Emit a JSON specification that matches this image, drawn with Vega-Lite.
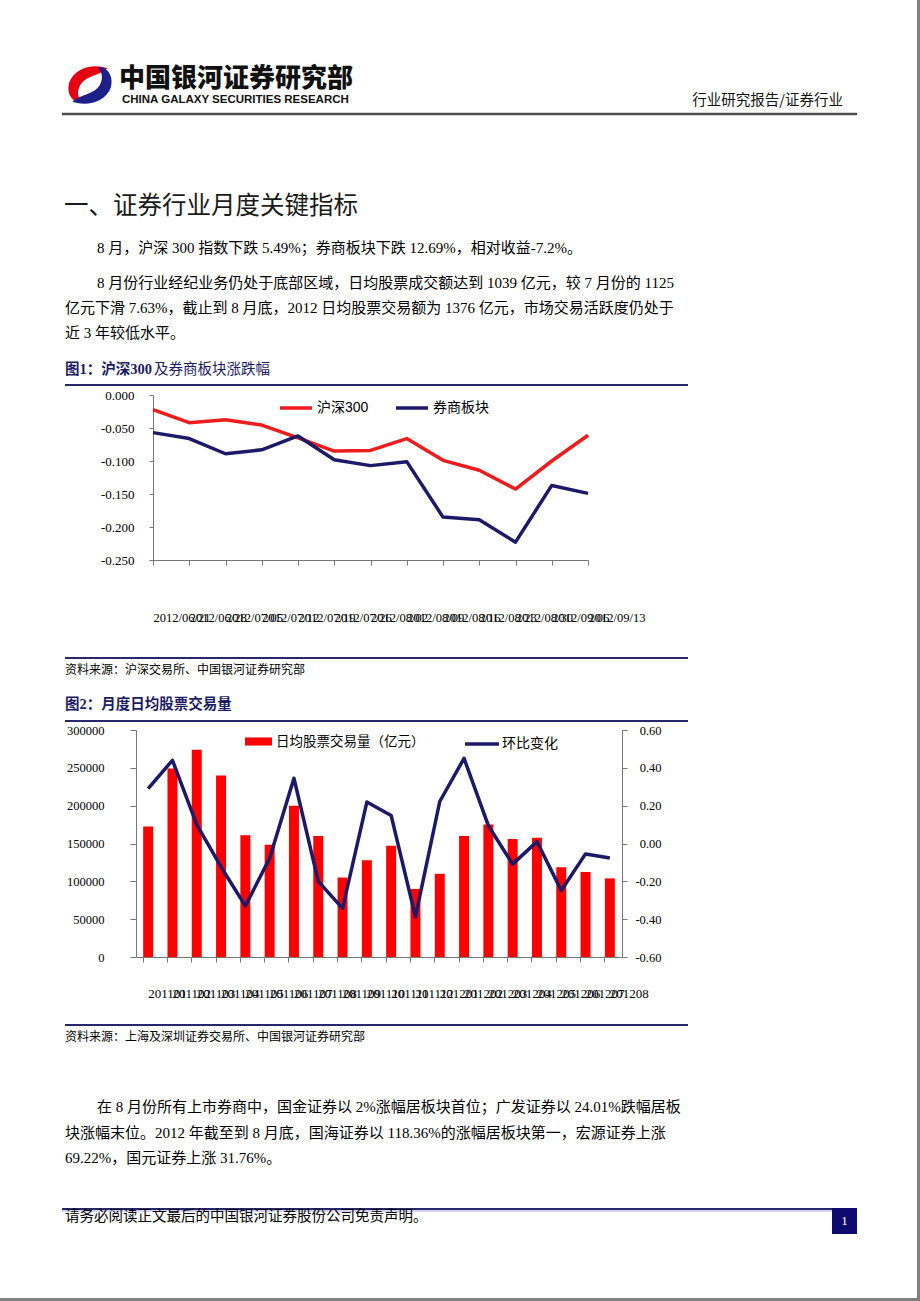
{
  "$schema": "https://vega.github.io/schema/vega-lite/v6.json",
  "width": 920,
  "height": 1301,
  "padding": 0,
  "autosize": {"type": "fit", "contains": "padding"},
  "background": "#ffffff",
  "config": {
    "view": {"stroke": null},
    "locale": {"number": {"decimal": ".", "thousands": "", "grouping": [3], "currency": ["", ""], "minus": "-"}}
  },
  "datasets": {
    "weekly": [
      {"date": "2012/06/21", "series": "沪深300", "value": -0.022},
      {"date": "2012/06/28", "series": "沪深300", "value": -0.042},
      {"date": "2012/07/05", "series": "沪深300", "value": -0.0375},
      {"date": "2012/07/12", "series": "沪深300", "value": -0.0455},
      {"date": "2012/07/19", "series": "沪深300", "value": -0.065},
      {"date": "2012/07/26", "series": "沪深300", "value": -0.085},
      {"date": "2012/08/02", "series": "沪深300", "value": -0.084},
      {"date": "2012/08/09", "series": "沪深300", "value": -0.066},
      {"date": "2012/08/16", "series": "沪深300", "value": -0.099},
      {"date": "2012/08/23", "series": "沪深300", "value": -0.114},
      {"date": "2012/08/30", "series": "沪深300", "value": -0.1425},
      {"date": "2012/09/06", "series": "沪深300", "value": -0.100},
      {"date": "2012/09/13", "series": "沪深300", "value": -0.061},
      {"date": "2012/06/21", "series": "券商板块", "value": -0.057},
      {"date": "2012/06/28", "series": "券商板块", "value": -0.066},
      {"date": "2012/07/05", "series": "券商板块", "value": -0.089},
      {"date": "2012/07/12", "series": "券商板块", "value": -0.083},
      {"date": "2012/07/19", "series": "券商板块", "value": -0.062},
      {"date": "2012/07/26", "series": "券商板块", "value": -0.098},
      {"date": "2012/08/02", "series": "券商板块", "value": -0.107},
      {"date": "2012/08/09", "series": "券商板块", "value": -0.101},
      {"date": "2012/08/16", "series": "券商板块", "value": -0.185},
      {"date": "2012/08/23", "series": "券商板块", "value": -0.189},
      {"date": "2012/08/30", "series": "券商板块", "value": -0.223},
      {"date": "2012/09/06", "series": "券商板块", "value": -0.137},
      {"date": "2012/09/13", "series": "券商板块", "value": -0.149}
    ],
    "monthly": [
      {"month": "201101", "volume": 172500, "change": 0.29},
      {"month": "201102", "volume": 249000, "change": 0.44},
      {"month": "201103", "volume": 274000, "change": 0.10},
      {"month": "201104", "volume": 240000, "change": -0.124},
      {"month": "201105", "volume": 161000, "change": -0.33},
      {"month": "201106", "volume": 148500, "change": -0.078},
      {"month": "201107", "volume": 200000, "change": 0.345},
      {"month": "201108", "volume": 160000, "change": -0.20},
      {"month": "201109", "volume": 105000, "change": -0.343},
      {"month": "201110", "volume": 128000, "change": 0.219},
      {"month": "201111", "volume": 147000, "change": 0.148},
      {"month": "201112", "volume": 90000, "change": -0.388},
      {"month": "201201", "volume": 110000, "change": 0.222},
      {"month": "201202", "volume": 160000, "change": 0.45},
      {"month": "201203", "volume": 175000, "change": 0.094},
      {"month": "201204", "volume": 156000, "change": -0.109},
      {"month": "201205", "volume": 157500, "change": 0.01},
      {"month": "201206", "volume": 118500, "change": -0.248},
      {"month": "201207", "volume": 112500, "change": -0.055},
      {"month": "201208", "volume": 103900, "change": -0.077}
    ]
  },
  "resolve": {
    "scale": {"x": "independent", "y": "independent", "color": "independent", "fill": "independent", "stroke": "independent"},
    "axis": {"x": "independent", "y": "independent"},
    "legend": {"color": "independent", "fill": "independent", "stroke": "independent"}
  },
  "layer": [
    {"data": {"values": [{}]}, "mark": {"type": "rect", "color": "#808080"}, "encoding": {"x": {"value": 917}, "x2": {"value": 920}, "y": {"value": 0}, "y2": {"value": 1301}}},
    {"data": {"values": [{}]}, "mark": {"type": "rect", "color": "#808080"}, "encoding": {"x": {"value": 0}, "x2": {"value": 920}, "y": {"value": 1298}, "y2": {"value": 1301}}},
    {"data": {"values": [{}]}, "mark": {"type": "point", "shape": "M0.8,-0.75 C0.2,-1.0 -0.7,-0.8 -0.95,-0.1 C-1.1,0.5 -0.7,0.85 -0.35,0.8 C-0.65,0.55 -0.6,0.0 -0.2,-0.25 C0.1,-0.45 0.5,-0.5 0.8,-0.75 Z", "size": 1936, "filled": true, "color": "#e60012", "opacity": 1, "strokeWidth": 0}, "encoding": {"x": {"value": 90}, "y": {"value": 85}}},
    {"data": {"values": [{}]}, "mark": {"type": "point", "shape": "M-0.8,0.75 C-0.2,1.0 0.7,0.8 0.95,0.1 C1.1,-0.5 0.7,-0.85 0.35,-0.8 C0.65,-0.55 0.6,0.0 0.2,0.25 C-0.1,0.45 -0.5,0.5 -0.8,0.75 Z", "size": 1936, "filled": true, "color": "#1d2088", "opacity": 1, "strokeWidth": 0}, "encoding": {"x": {"value": 90}, "y": {"value": 85}}},
    {"data": {"values": [{}]}, "mark": {"type": "text", "text": "中国银河证券研究部", "align": "left", "baseline": "middle", "font": "Noto Sans CJK SC", "fontSize": 26, "fontWeight": 900, "color": "#111111"}, "encoding": {"x": {"value": 119}, "y": {"value": 79}}},
    {"data": {"values": [{}]}, "mark": {"type": "text", "text": "CHINA GALAXY SECURITIES RESEARCH", "align": "left", "baseline": "middle", "font": "Liberation Sans", "fontSize": 11.5, "fontWeight": "bold", "color": "#111111"}, "encoding": {"x": {"value": 122}, "y": {"value": 100}}},
    {"data": {"values": [{}]}, "mark": {"type": "text", "text": "行业研究报告/证券行业", "align": "right", "baseline": "middle", "font": "Noto Sans CJK SC", "fontSize": 14.5, "color": "#111111"}, "encoding": {"x": {"value": 843}, "y": {"value": 101}}},
    {"data": {"values": [{}]}, "mark": {"type": "rule", "color": "#4d4d4d", "strokeWidth": 2.5}, "encoding": {"x": {"value": 62}, "x2": {"value": 857}, "y": {"value": 114}}},
    {"data": {"values": [{}]}, "mark": {"type": "text", "text": "一、证券行业月度关键指标", "align": "left", "baseline": "middle", "font": "Noto Sans CJK SC", "fontSize": 24.5, "color": "#1a1a1a"}, "encoding": {"x": {"value": 64}, "y": {"value": 207}}},
    {"data": {"values": [{}]}, "mark": {"type": "text", "text": "8 月，沪深 300 指数下跌 5.49%；券商板块下跌 12.69%，相对收益-7.2%。", "align": "left", "baseline": "middle", "font": "Liberation Serif, Noto Sans CJK SC", "fontSize": 15, "color": "#000000"}, "encoding": {"x": {"value": 97}, "y": {"value": 248}}},
    {"data": {"values": [{}]}, "mark": {"type": "text", "text": "8 月份行业经纪业务仍处于底部区域，日均股票成交额达到 1039 亿元，较 7 月份的 1125", "align": "left", "baseline": "middle", "font": "Liberation Serif, Noto Sans CJK SC", "fontSize": 15, "color": "#000000"}, "encoding": {"x": {"value": 97}, "y": {"value": 283}}},
    {"data": {"values": [{}]}, "mark": {"type": "text", "text": "亿元下滑 7.63%，截止到 8 月底，2012 日均股票交易额为 1376 亿元，市场交易活跃度仍处于", "align": "left", "baseline": "middle", "font": "Liberation Serif, Noto Sans CJK SC", "fontSize": 15, "color": "#000000"}, "encoding": {"x": {"value": 65}, "y": {"value": 308}}},
    {"data": {"values": [{}]}, "mark": {"type": "text", "text": "近 3 年较低水平。", "align": "left", "baseline": "middle", "font": "Liberation Serif, Noto Sans CJK SC", "fontSize": 15, "color": "#000000"}, "encoding": {"x": {"value": 65}, "y": {"value": 333}}},
    {"data": {"values": [{}]}, "mark": {"type": "text", "text": "图1：沪深300", "align": "left", "baseline": "middle", "font": "Liberation Serif, Noto Sans CJK SC", "fontSize": 14.5, "fontWeight": "bold", "color": "#1b1b66"}, "encoding": {"x": {"value": 65}, "y": {"value": 370}}},
    {"data": {"values": [{}]}, "mark": {"type": "text", "text": "及券商板块涨跌幅", "align": "left", "baseline": "middle", "font": "Liberation Serif, Noto Sans CJK SC", "fontSize": 14.5, "color": "#1b1b66"}, "encoding": {"x": {"value": 154}, "y": {"value": 370}}},
    {"data": {"values": [{}]}, "mark": {"type": "rule", "color": "#27276b", "strokeWidth": 2}, "encoding": {"x": {"value": 65}, "x2": {"value": 688}, "y": {"value": 385}}},
    {"data": {"values": [{}]}, "mark": {"type": "rule", "color": "#27276b", "strokeWidth": 2}, "encoding": {"x": {"value": 65}, "x2": {"value": 688}, "y": {"value": 658}}},
    {"data": {"values": [{}]}, "mark": {"type": "text", "text": "资料来源：沪深交易所、中国银河证券研究部", "align": "left", "baseline": "middle", "font": "Noto Sans CJK SC", "fontSize": 12, "color": "#000000"}, "encoding": {"x": {"value": 65}, "y": {"value": 670}}},
    {"data": {"values": [{}]}, "mark": {"type": "text", "text": "图2：月度日均股票交易量", "align": "left", "baseline": "middle", "font": "Liberation Serif, Noto Sans CJK SC", "fontSize": 14.5, "fontWeight": "bold", "color": "#1b1b66"}, "encoding": {"x": {"value": 65}, "y": {"value": 705}}},
    {"data": {"values": [{}]}, "mark": {"type": "rule", "color": "#27276b", "strokeWidth": 2}, "encoding": {"x": {"value": 65}, "x2": {"value": 688}, "y": {"value": 721}}},
    {"data": {"values": [{}]}, "mark": {"type": "rule", "color": "#27276b", "strokeWidth": 2}, "encoding": {"x": {"value": 65}, "x2": {"value": 688}, "y": {"value": 1025}}},
    {"data": {"values": [{}]}, "mark": {"type": "text", "text": "资料来源：上海及深圳证券交易所、中国银河证券研究部", "align": "left", "baseline": "middle", "font": "Noto Sans CJK SC", "fontSize": 12, "color": "#000000"}, "encoding": {"x": {"value": 65}, "y": {"value": 1037}}},
    {"data": {"values": [{}]}, "mark": {"type": "text", "text": "在 8 月份所有上市券商中，国金证券以 2%涨幅居板块首位；广发证券以 24.01%跌幅居板", "align": "left", "baseline": "middle", "font": "Liberation Serif, Noto Sans CJK SC", "fontSize": 15, "color": "#000000"}, "encoding": {"x": {"value": 97}, "y": {"value": 1107}}},
    {"data": {"values": [{}]}, "mark": {"type": "text", "text": "块涨幅末位。2012 年截至到 8 月底，国海证券以 118.36%的涨幅居板块第一，宏源证券上涨", "align": "left", "baseline": "middle", "font": "Liberation Serif, Noto Sans CJK SC", "fontSize": 15, "color": "#000000"}, "encoding": {"x": {"value": 65}, "y": {"value": 1133}}},
    {"data": {"values": [{}]}, "mark": {"type": "text", "text": "69.22%，国元证券上涨 31.76%。", "align": "left", "baseline": "middle", "font": "Liberation Serif, Noto Sans CJK SC", "fontSize": 15, "color": "#000000"}, "encoding": {"x": {"value": 65}, "y": {"value": 1158}}},
    {"data": {"values": [{}]}, "mark": {"type": "rule", "color": "#c4c4ec", "strokeWidth": 1.5}, "encoding": {"x": {"value": 62}, "x2": {"value": 832}, "y": {"value": 1211}}},
    {"data": {"values": [{}]}, "mark": {"type": "rule", "color": "#27276b", "strokeWidth": 2}, "encoding": {"x": {"value": 62}, "x2": {"value": 832}, "y": {"value": 1209}}},
    {"data": {"values": [{}]}, "mark": {"type": "text", "text": "请务必阅读正文最后的中国银河证券股份公司免责声明。", "align": "left", "baseline": "middle", "font": "Noto Sans CJK SC", "fontSize": 14.5, "color": "#000000"}, "encoding": {"x": {"value": 65}, "y": {"value": 1217}}},
    {"data": {"values": [{}]}, "mark": {"type": "rect", "color": "#0f0a6e"}, "encoding": {"x": {"value": 832}, "x2": {"value": 857}, "y": {"value": 1208}, "y2": {"value": 1234}}},
    {"data": {"values": [{}]}, "mark": {"type": "text", "text": "1", "align": "center", "baseline": "middle", "font": "Liberation Serif", "fontSize": 13, "color": "#ffffff"}, "encoding": {"x": {"value": 844.5}, "y": {"value": 1221}}},
    {
      "data": {"name": "weekly"},
      "mark": {"type": "line", "strokeWidth": 3.5, "strokeJoin": "round"},
      "encoding": {
        "x": {
          "field": "date", "type": "ordinal",
          "scale": {"type": "point", "range": [153, 588], "padding": 0},
          "axis": {"orient": "bottom", "offset": -741, "title": null, "grid": false, "labelAngle": 0, "labelAlign": "left", "labelBaseline": "middle", "labelPadding": 52, "labelDx": -5, "labelFont": "Liberation Serif", "labelFontSize": 12.5, "labelColor": "#000000", "labelOverlap": false, "labelFlush": false, "labelBound": false, "tickSize": 5, "domainColor": "#777777", "tickColor": "#777777"}
        },
        "y": {
          "field": "value", "type": "quantitative",
          "scale": {"domain": [-0.25, 0], "range": [560, 395], "nice": false, "zero": false},
          "axis": {"orient": "left", "offset": -153, "title": null, "grid": false, "values": [0, -0.05, -0.1, -0.15, -0.2, -0.25], "format": ".3f", "tickSize": 4, "labelPadding": 15, "labelFont": "Liberation Serif", "labelFontSize": 13, "labelColor": "#000000", "labelFlush": false, "labelBound": false, "labelOverlap": false, "domainColor": "#777777", "tickColor": "#777777"}
        },
        "color": {
          "field": "series", "type": "nominal",
          "scale": {"domain": ["沪深300", "券商板块"], "range": ["#ee1c1c", "#1c1a68"]},
          "legend": {"orient": "none", "legendX": 278, "legendY": 390, "direction": "horizontal", "title": null, "symbolType": "stroke", "symbolSize": 1024, "symbolStrokeWidth": 3.5, "labelFont": "Liberation Sans, Noto Sans CJK SC", "labelFontSize": 14, "labelColor": "#000000", "labelOffset": 3, "columnPadding": 20, "padding": 0}
        }
      }
    },
    {
      "data": {"name": "monthly"},
      "mark": {"type": "bar", "opacity": 1},
      "encoding": {
        "x": {
          "field": "month", "type": "ordinal",
          "scale": {"type": "band", "range": [136, 622], "paddingInner": 0.59, "paddingOuter": 0.295},
          "axis": {"orient": "bottom", "offset": -344, "bandPosition": 0, "title": null, "grid": false, "labelAngle": 0, "labelAlign": "left", "labelBaseline": "middle", "labelPadding": 31, "labelDx": 3, "labelFont": "Liberation Serif", "labelFontSize": 13, "labelColor": "#000000", "labelOverlap": false, "labelFlush": false, "labelBound": false, "tickSize": 5, "domainColor": "#777777", "tickColor": "#777777"}
        },
        "y": {
          "field": "volume", "type": "quantitative",
          "scale": {"domain": [0, 300000], "range": [957, 730], "nice": false},
          "axis": {"orient": "left", "offset": -136, "title": null, "grid": false, "values": [0, 50000, 100000, 150000, 200000, 250000, 300000], "format": "d", "tickSize": 6, "labelPadding": 26, "labelFont": "Liberation Serif", "labelFontSize": 12.5, "labelColor": "#000000", "labelFlush": false, "labelBound": false, "labelOverlap": false, "domainColor": "#777777", "tickColor": "#777777"}
        },
        "fill": {
          "datum": "日均股票交易量（亿元）",
          "scale": {"domain": ["日均股票交易量（亿元）"], "range": ["#ff0000"]},
          "legend": {"orient": "none", "legendX": 245, "legendY": 728, "title": null, "symbolType": "M-1,-0.3H1V0.3H-1Z", "symbolSize": 729, "symbolStrokeWidth": 0, "labelFont": "Noto Sans CJK SC", "labelFontSize": 13.5, "labelColor": "#000000", "labelOffset": 4, "padding": 0}
        }
      }
    },
    {
      "data": {"name": "monthly"},
      "mark": {"type": "line", "strokeWidth": 3.5, "strokeJoin": "round"},
      "encoding": {
        "x": {
          "field": "month", "type": "ordinal",
          "scale": {"type": "band", "range": [136, 622], "paddingInner": 0.59, "paddingOuter": 0.295},
          "axis": null
        },
        "y": {
          "field": "change", "type": "quantitative",
          "scale": {"domain": [-0.6, 0.6], "range": [957, 730], "nice": false, "zero": false},
          "axis": {"orient": "right", "offset": -298, "title": null, "grid": false, "values": [-0.6, -0.4, -0.2, 0, 0.2, 0.4, 0.6], "format": ".2f", "tickSize": 5, "labelPadding": 34, "labelAlign": "right", "labelFont": "Liberation Serif", "labelFontSize": 12.5, "labelColor": "#000000", "labelFlush": false, "labelBound": false, "labelOverlap": false, "domainColor": "#777777", "tickColor": "#777777"}
        },
        "stroke": {
          "datum": "环比变化",
          "scale": {"domain": ["环比变化"], "range": ["#1c1a68"]},
          "legend": {"orient": "none", "legendX": 463, "legendY": 725, "title": null, "symbolType": "stroke", "symbolSize": 1156, "symbolStrokeWidth": 3.5, "labelFont": "Noto Sans CJK SC", "labelFontSize": 14, "labelColor": "#000000", "labelOffset": 1, "padding": 0}
        }
      }
    }
  ]
}
